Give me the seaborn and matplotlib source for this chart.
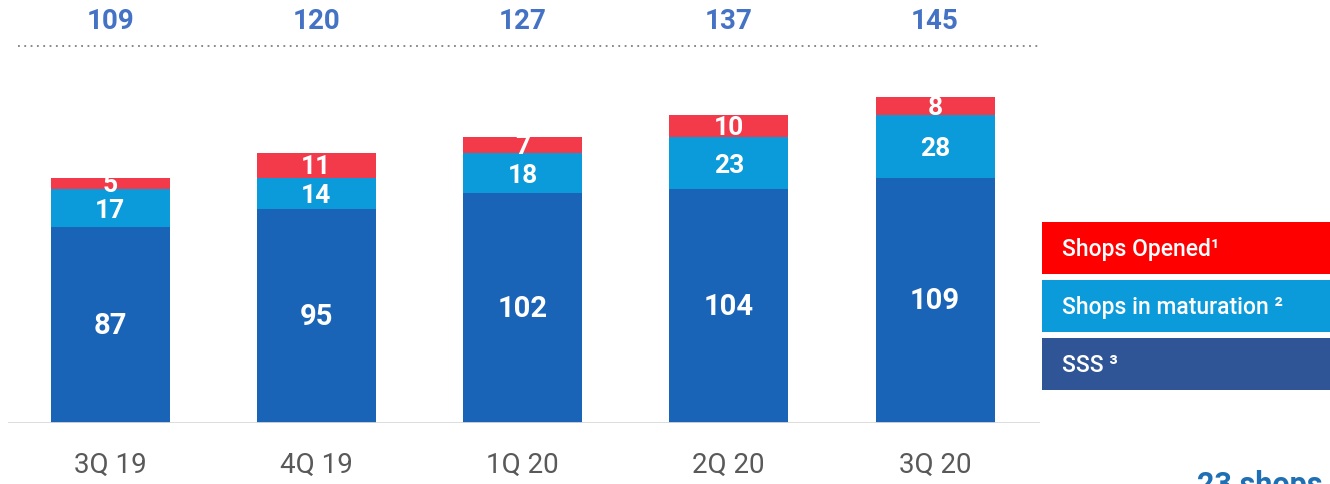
import pandas as pd
import seaborn as sns
import matplotlib.pyplot as plt
from matplotlib.patches import Rectangle

quarters = ['3Q 19', '4Q 19', '1Q 20', '2Q 20', '3Q 20']
sss = [87, 95, 102, 104, 109]
maturation = [17, 14, 18, 23, 28]
opened = [5, 11, 7, 10, 8]
totals = [109, 120, 127, 137, 145]

df = pd.DataFrame({'quarter': quarters, 'sss': sss, 'maturation': maturation, 'opened': opened})
df['mid'] = df['sss'] + df['maturation']
df['top'] = df['mid'] + df['opened']

sns.set_style('white')
plt.rcParams['font.family'] = ['Roboto', 'DejaVu Sans']

fig = plt.figure(figsize=(13.3, 4.85), dpi=100)
ax = fig.add_axes([8 / 1330, 61 / 485, 1032 / 1330, 424 / 485])

red = '#F23A4A'
light = '#0B9ADA'
dark = '#1A64B8'
bw = 0.577

# stacked bars: draw cumulative totals back to front
sns.barplot(data=df, x='quarter', y='top', color=red, width=bw, saturation=1, linewidth=0, ax=ax)
sns.barplot(data=df, x='quarter', y='mid', color=light, width=bw, saturation=1, linewidth=0, ax=ax)
sns.barplot(data=df, x='quarter', y='sss', color=dark, width=bw, saturation=1, linewidth=0, ax=ax)

for i, row in df.iterrows():
    ax.text(i, row['sss'] / 2, str(row['sss']), ha='center', va='center',
            color='white', fontsize=21, fontweight='bold')
    ax.text(i, row['sss'] + row['maturation'] / 2 - 0.8, str(row['maturation']), ha='center', va='center',
            color='white', fontsize=19, fontweight='bold')
    ax.text(i, row['mid'] + row['opened'] / 2 - 0.5, str(row['opened']), ha='center', va='center',
            color='white', fontsize=19, fontweight='bold', clip_on=False)
    ax.text(i, 178.7, str(totals[i]), ha='center', va='center',
            color='#4472C4', fontsize=20, fontweight='bold')

ax.plot([-0.447, 4.509], [167.6, 167.6], linestyle=(0, (1, 2.5)), color='#7F7F7F', linewidth=1.3)
ax.axhline(0, color='#D9D9D9', linewidth=2, zorder=5)

ax.set_xlim(-0.495, 4.509)
ax.set_ylim(0, 188.4)
ax.set_xlabel('')
ax.set_ylabel('')
ax.set_yticks([])
ax.tick_params(axis='x', length=0, pad=20, labelsize=20, labelcolor='#595959')
sns.despine(ax=ax, left=True, bottom=True)

# legend blocks on the right
legend_items = [('Shops Opened\u00b9', '#FF0000', 223),
                ('Shops in maturation \u00b2', '#0B9ADA', 281),
                ('SSS \u00b3', '#2F5597', 339)]
for label, col, ytop in legend_items:
    fig.patches.append(Rectangle((1042 / 1330, 1 - (ytop + 52) / 485), 288 / 1330, 52 / 485,
                                 transform=fig.transFigure, facecolor=col, edgecolor='none'))
    fig.text(1062 / 1330, 1 - (ytop + 27) / 485, label, color='white', fontsize=16.5,
             fontweight='medium', va='center', ha='left')

fig.text(1197 / 1330, 1 - 470 / 485, '23 shops', color='#1F6FB5', fontsize=22,
         fontweight='bold', va='top', ha='left')

fig.savefig('out.png', dpi=100)
